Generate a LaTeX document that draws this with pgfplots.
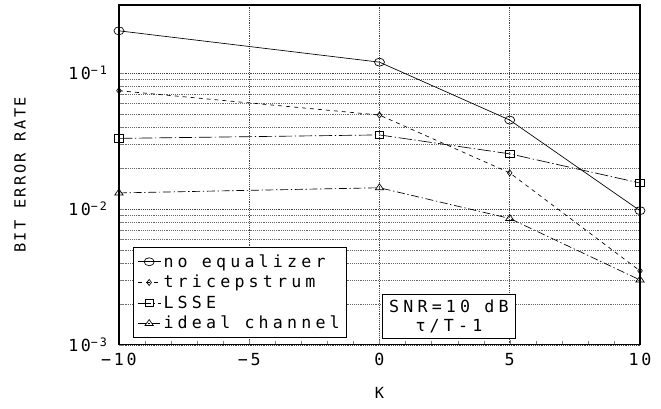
\documentclass[border=0pt]{standalone}
\usepackage{fontspec}
\setmainfont{DejaVu Sans Mono}[LetterSpace=16]
\newfontfamily\boxfont{DejaVu Sans Mono}[LetterSpace=25]
\usepackage{pgfplots}
\pgfplotsset{compat=1.18}

\begin{document}
\begin{tikzpicture}
\useasboundingbox (-89.25pt,-48pt) rectangle (406.75pt,258.75pt);
\begin{axis}[
  scale only axis, width=391pt, height=255pt,
  ymode=log, xmin=-10, xmax=10, ymin=1e-3, ymax=0.316,
  xtick={-10,-5,0,5,10},
  xticklabels={−10,−5,0,5,10},
  ytick={1e-3,1e-2,1e-1},
  yticklabels={10\textsuperscript{−3},10\textsuperscript{−2},10\textsuperscript{−1}},
  minor x tick num=4,
  tick align=inside, xtick pos=bottom, ytick pos=left,
  major tick length=4pt, minor tick length=3pt,
  xmajorgrids, ymajorgrids, yminorgrids,
  major grid style={black!75, densely dotted, line width=0.4pt},
  minor grid style={black!60, densely dotted, line width=0.4pt},
  axis line style={line width=0.9pt},
  tick label style={font=\fontsize{12.5}{14}\selectfont},
  xticklabel style={yshift=-3pt},
  yticklabel style={xshift=-5pt},
  xlabel={K}, ylabel={BIT ERROR RATE},
  label style={font=\fontsize{11.5}{13}\selectfont},
  xlabel style={at={(axis description cs:0.5,-0.141)}, anchor=center},
  ylabel style={at={(axis description cs:-0.19,0.5)}, anchor=center},
  legend style={at={(rel axis cs:0.027,0.02)}, anchor=south west,
    draw=black, fill=white, line width=0.7pt,
    font=\boxfont\fontsize{12.5}{14}\selectfont, row sep=0.5pt,
    inner xsep=3pt, inner ysep=3pt, cells={anchor=west}},
  legend image post style={line width=0.5pt},
]
\addplot[black, line width=0.5pt, mark=o, mark size=3pt, mark options={solid, xscale=1.25}]
  coordinates {(-10,0.204) (0,0.12) (5,0.045) (10,0.0097)};
\addlegendentry{no equalizer}
\addplot[black, line width=0.5pt, dashed, mark=diamond, mark size=2.3pt, mark options={solid}]
  coordinates {(-10,0.074) (0,0.049) (5,0.0184) (10,0.0035)};
\addlegendentry{tricepstrum}
\addplot[black, line width=0.5pt, dash pattern=on 10pt off 2pt on 1pt off 2pt, mark=square, mark size=2.7pt, mark options={solid, xscale=1.2}]
  coordinates {(-10,0.033) (0,0.035) (5,0.0254) (10,0.0155)};
\addlegendentry{LSSE}
\addplot[black, line width=0.5pt, dash pattern=on 6pt off 2pt on 1pt off 2pt, mark=triangle, mark size=3pt, mark options={solid, xscale=1.2}]
  coordinates {(-10,0.0131) (0,0.0143) (5,0.0085) (10,0.003)};
\addlegendentry{ideal channel}
\node[draw=black, fill=white, line width=0.7pt, anchor=south west, align=center,
  font=\boxfont\fontsize{12.5}{14}\selectfont, inner xsep=5pt, inner ysep=4pt]
  at (rel axis cs:0.505,0.018) {SNR=10 dB\\τ/T-1};
\end{axis}
\end{tikzpicture}
\end{document}
